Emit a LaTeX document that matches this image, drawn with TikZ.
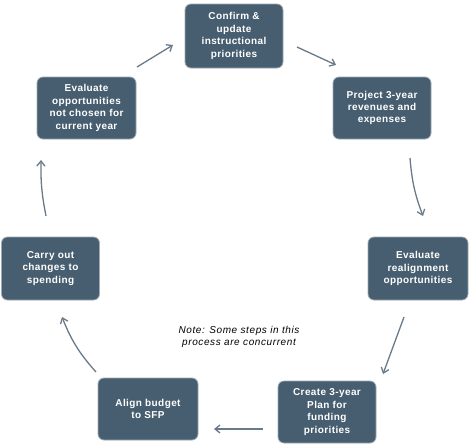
\documentclass[tikz,border=0pt]{standalone}
\usepackage{fontspec}
\setmainfont{Liberation Sans}
\newfontfamily\boxfont[LetterSpace=4]{Liberation Sans}
\newfontfamily\notefont[LetterSpace=6]{Liberation Sans}
\usetikzlibrary{arrows.meta}
\definecolor{boxfill}{RGB}{70,94,111}
\definecolor{boxedge}{RGB}{160,170,178}
\definecolor{arrowcol}{RGB}{105,122,136}
\tikzset{
  stepbox/.style={draw=boxedge, line width=0.8pt, fill=boxfill, rounded corners=6pt,
    text=white, font=\boxfont\bfseries\fontsize{10}{12.4}\selectfont, align=center,
    inner sep=1pt},
  cyc/.style={draw=arrowcol, line width=1.3pt, -{Straight Barb[length=5pt,width=8pt]}},
}
\begin{document}
\begin{tikzpicture}[x=1pt,y=-1pt]
\useasboundingbox (0,0) rectangle (476,447);
\node[stepbox, minimum width=98pt, minimum height=64pt] (n1) at (234,36) {Confirm \&\\update\\instructional\\priorities};
\node[stepbox, minimum width=98pt, minimum height=62pt] (n2) at (382,108) {Project 3-year\\revenues and\\expenses};
\node[stepbox, minimum width=100pt, minimum height=63pt] (n3) at (418,268.5) {Evaluate\\realignment\\opportunities};
\node[stepbox, minimum width=98pt, minimum height=62pt] (n4) at (327,412) {Create 3-year\\Plan for\\funding\\priorities};
\node[stepbox, minimum width=100pt, minimum height=62pt] (n5) at (148,409) {Align budget\\to SFP};
\node[stepbox, minimum width=98pt, minimum height=63pt] (n6) at (50.5,268.5) {Carry out\\changes to\\spending};
\node[stepbox, minimum width=99pt, minimum height=62pt] (n7) at (86.5,108) {Evaluate\\opportunities\\not chosen for\\current year};
\node[font=\notefont\itshape\fontsize{10}{12.5}\selectfont, align=center] (note) at (239,337) {Note: Some steps in this\\process are concurrent};
\coordinate (a1s) at (137,67); \coordinate (a1e) at (173,45);
\coordinate (a2s) at (297,47); \coordinate (a2e) at (336,65);
\coordinate (a3s) at (410,158); \coordinate (a3e) at (423,216);
\coordinate (a4s) at (404,317); \coordinate (a4e) at (383,374);
\coordinate (a5s) at (263,429); \coordinate (a5e) at (214,429);
\coordinate (a6s) at (96,372); \coordinate (a6e) at (62,317);
\coordinate (a7s) at (46,216); \coordinate (a7e) at (41,160);
\draw[cyc] (a1s) -- (a1e);
\draw[cyc] (a2s) -- (a2e);
\draw[cyc] (a3s) to[bend right=8] (a3e);
\draw[cyc] (a4s) -- (a4e);
\draw[cyc] (a5s) -- (a5e);
\draw[cyc] (a6s) to[bend left=10] (a6e);
\draw[cyc] (a7s) to[bend left=6] (a7e);
\end{tikzpicture}
\end{document}
